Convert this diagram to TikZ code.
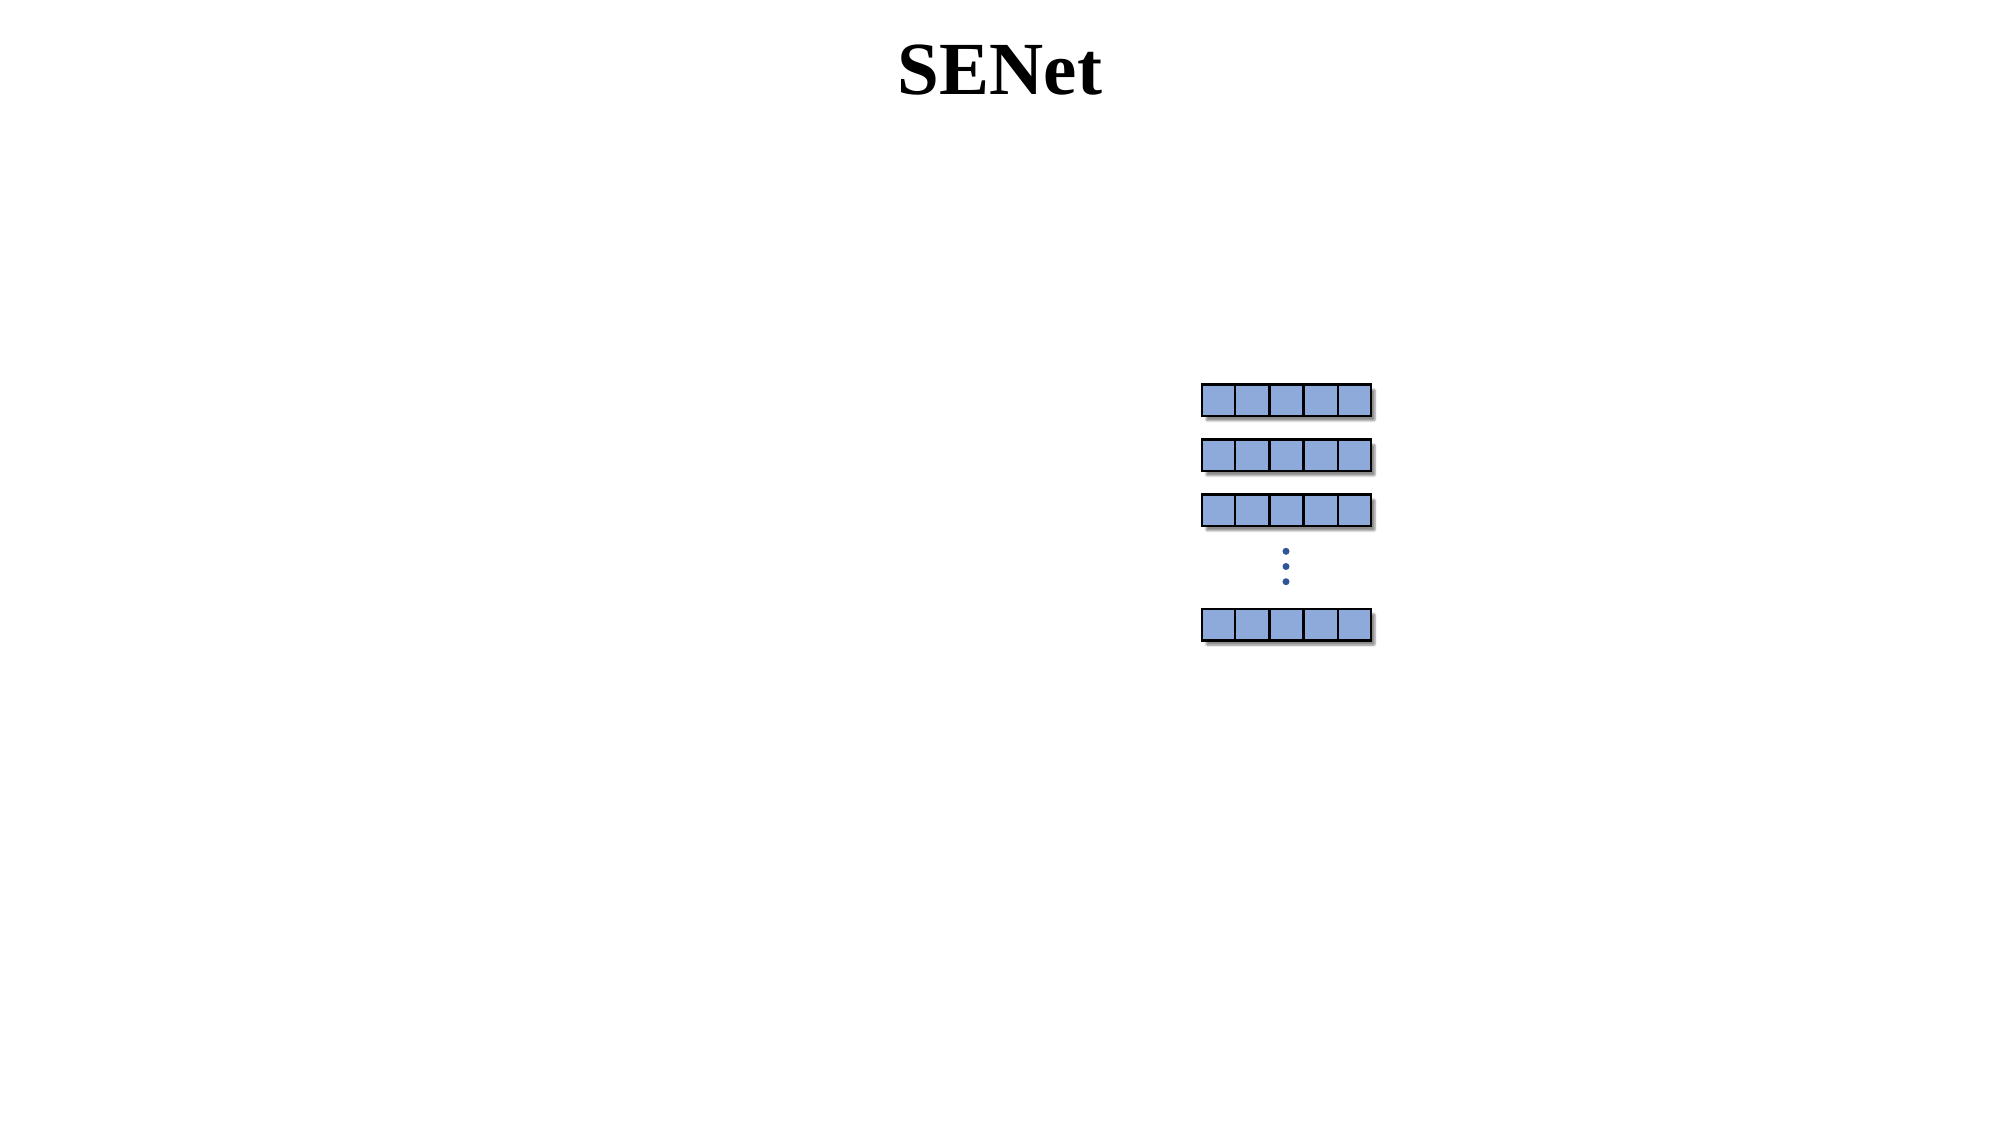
\documentclass[tikz,border=0pt]{standalone}
\usepackage{fontspec}
\setmainfont{Liberation Serif}
\usetikzlibrary{shadows.blur}
\definecolor{cellfill}{HTML}{8EAADB}
\definecolor{dotblue}{HTML}{2F5597}
\tikzset{
  rowbox/.style={draw=black, line width=2.5pt, fill=cellfill, minimum width=169pt, minimum height=31.5pt, inner sep=0pt,
    blur shadow={shadow xshift=4pt, shadow yshift=-5pt, shadow blur steps=6, shadow opacity=45, shadow blur extra rounding=1pt}},
  divider/.style={draw=black, line width=2.5pt},
  vdot/.style={circle, fill=dotblue, minimum size=7pt, inner sep=0pt}
}
\begin{document}
\begin{tikzpicture}[x=1pt,y=-1pt]
\useasboundingbox (0,0) rectangle (2000,1125);
\node (title) at (1000,70) {\fontsize{75}{80}\selectfont\bfseries SENet};
\foreach \name/\yc in {r1/400, r2/455, r3/510, r4/624.5} {
  \node[rowbox] (\name) at (1286.5,\yc) {};
  \foreach \k in {1,2,3,4} {
    \draw[divider] ($(\name.north west)!\k/5!(\name.north east)$) -- ($(\name.south west)!\k/5!(\name.south east)$);
  }
}
\node[vdot] (d1) at (1286,551.3) {};
\node[vdot] (d2) at (1286,566.5) {};
\node[vdot] (d3) at (1286,581.7) {};
\end{tikzpicture}
\end{document}
